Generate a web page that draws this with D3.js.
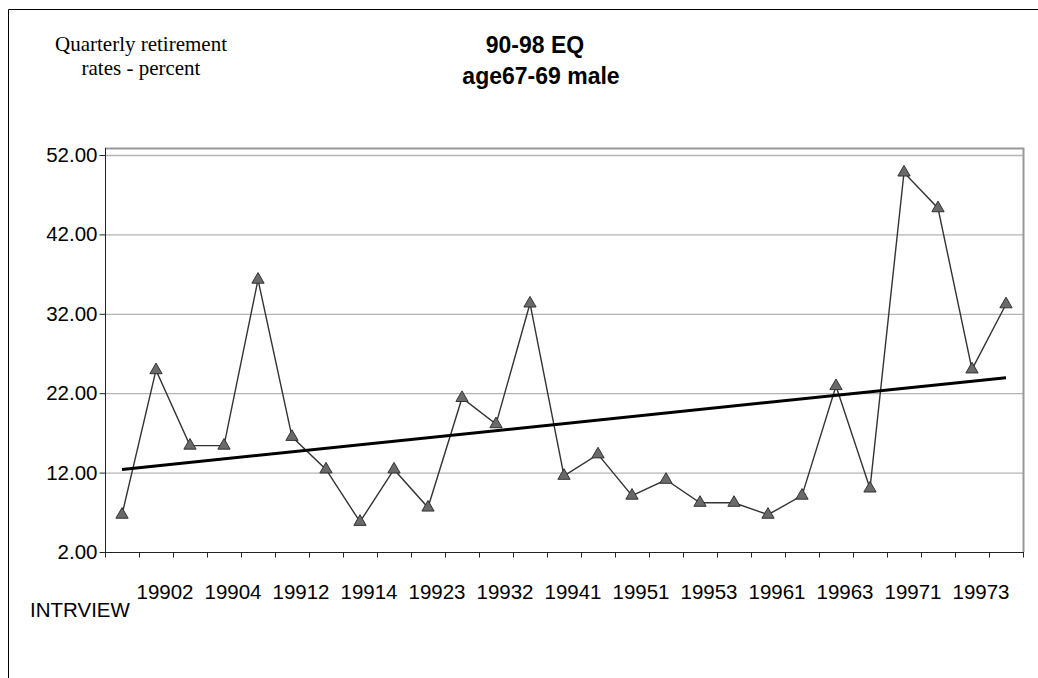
<!DOCTYPE html>
<html>
<head>
<meta charset="utf-8">
<script src="https://cdn.jsdelivr.net/npm/d3@7"></script>
<style>
  body { margin: 0; background: #fff; }
</style>
</head>
<body>
<div id="chart"></div>
<script>
var categories = ["19901", "19902", "19903", "19904", "19911", "19912", "19913", "19914", "19922",
    "19923", "19931", "19932", "19933", "19941", "19942", "19951", "19952", "19953", "19954",
    "19961", "19962", "19963", "19964", "19971", "19972", "19973", "19974"];
var rates = [6.7, 24.9, 15.4, 15.4, 36.3, 16.5, 12.4, 5.8, 12.4, 7.6, 21.4, 18.1, 33.3, 11.6,
    14.3, 9.1, 11.1, 8.2, 8.2, 6.7, 9.1, 22.9, 10.0, 49.8, 45.3, 25.0, 33.2];
var yTicks = [2, 12, 22, 32, 42, 52];
var titleLines = ["90-98 EQ", "age67-69 male"];
var yLabelLines = ["Quarterly retirement", "rates - percent"];
var xTitle = "INTRVIEW";

var width = 1038, height = 678;
var plot = { left: 105, right: 1023, top: 148, bottom: 552 };
var sans = "'Liberation Sans', Arial, sans-serif";
var serif = "'Liberation Serif', 'Times New Roman', serif";

var svg = d3.select("#chart")
    .append("svg")
    .attr("width", width)
    .attr("height", height);

// outer frame (only top and left visible in the reference)
svg.append("path")
    .attr("d", "M8.5," + height + "V9.5H" + width)
    .attr("fill", "none")
    .attr("stroke", "#000")
    .attr("stroke-width", 1);

var x = d3.scaleBand()
    .domain(categories)
    .range([plot.left, plot.right]);

var y = d3.scaleLinear()
    .domain([2, 52])
    .range([plot.bottom, 155]);

// gridlines
svg.append("g")
    .selectAll("line")
    .data(yTicks.slice(1))
    .enter().append("line")
    .attr("x1", plot.left)
    .attr("x2", plot.right)
    .attr("y1", d => y(d) + 0.5)
    .attr("y2", d => y(d) + 0.5)
    .attr("stroke", "#b4b4b4")
    .attr("stroke-width", 1.3);

// plot area border top + right
svg.append("path")
    .attr("d", "M" + plot.left + "," + (plot.top + 0.5) + "H" + (plot.right + 0.5) + "V" + plot.bottom)
    .attr("fill", "none")
    .attr("stroke", "#999")
    .attr("stroke-width", 2);

var yAxis = svg.append("g")
    .attr("transform", "translate(" + (plot.left + 0.5) + ",0)")
    .call(d3.axisLeft(y).tickValues(yTicks).tickFormat(d3.format(".2f")).tickSize(6).tickPadding(2).tickSizeOuter(0))
    .style("font-family", sans)
    .style("font-size", "20.5px");
yAxis.select(".domain").remove();
yAxis.append("line")
    .attr("y1", plot.top)
    .attr("y2", plot.bottom)
    .attr("stroke", "#222");
yAxis.selectAll(".tick line").attr("stroke", "#222");
yAxis.selectAll(".tick text").attr("fill", "#000");

var xAxis = svg.append("g")
    .attr("transform", "translate(0," + (plot.bottom + 0.5) + ")")
    .call(d3.axisBottom(x).tickSize(0).tickFormat((d, i) => i % 2 === 1 ? d : "").tickPadding(32))
    .style("font-family", sans)
    .style("font-size", "20.5px");
xAxis.select(".domain").attr("stroke", "#222").attr("d", "M" + plot.left + ",0H" + (plot.right + 1));
xAxis.selectAll(".tick text").attr("fill", "#000").attr("dx", 9);

// tick marks on category boundaries
xAxis.selectAll(".bound")
    .data(categories.concat(["end"]))
    .enter().append("line")
    .attr("class", "bound")
    .attr("x1", (d, i) => Math.round(plot.left + i * x.bandwidth()) + 0.5)
    .attr("x2", (d, i) => Math.round(plot.left + i * x.bandwidth()) + 0.5)
    .attr("y1", 0)
    .attr("y2", 5)
    .attr("stroke", "#222");

var cx = d => x(d) + x.bandwidth() / 2;

// series line
var line = d3.line()
    .x((d, i) => cx(categories[i]))
    .y(d => y(d));

svg.append("path")
    .datum(rates)
    .attr("d", line)
    .attr("fill", "none")
    .attr("stroke", "#333")
    .attr("stroke-width", 1.4);

// linear trend (least squares over the series)
var idx = rates.map((d, i) => i);
var mx = d3.mean(idx), my = d3.mean(rates);
var slope = d3.sum(idx, i => (i - mx) * (rates[i] - my)) / d3.sum(idx, i => (i - mx) * (i - mx));
var icpt = my - slope * mx;
var last = categories.length - 1;

svg.append("line")
    .attr("x1", cx(categories[0]))
    .attr("x2", cx(categories[last]))
    .attr("y1", y(icpt))
    .attr("y2", y(icpt + slope * last))
    .attr("stroke", "#000")
    .attr("stroke-width", 3);

svg.append("g")
    .selectAll("path")
    .data(rates)
    .enter().append("path")
    .attr("d", d3.symbol().type(d3.symbolTriangle).size(65))
    .attr("transform", (d, i) => "translate(" + cx(categories[i]) + "," + y(d) + ")")
    .attr("fill", "#6a6a6a")
    .attr("stroke", "#333")
    .attr("stroke-width", 1);

// titles
svg.append("text")
    .attr("text-anchor", "middle")
    .style("font-family", sans)
    .style("font-weight", "bold")
    .style("font-size", "23px")
    .selectAll("tspan")
    .data(titleLines)
    .enter().append("tspan")
    .attr("x", (d, i) => i === 0 ? 535 : 541)
    .attr("y", (d, i) => 53 + i * 31)
    .text(d => d);

svg.append("text")
    .attr("text-anchor", "middle")
    .style("font-family", serif)
    .style("font-size", "21px")
    .selectAll("tspan")
    .data(yLabelLines)
    .enter().append("tspan")
    .attr("x", 141)
    .attr("y", (d, i) => 51 + i * 24)
    .text(d => d);

svg.append("text")
    .attr("x", 30)
    .attr("y", 617)
    .style("font-family", sans)
    .style("font-size", "20.5px")
    .text(xTitle);
</script>
</body>
</html>
